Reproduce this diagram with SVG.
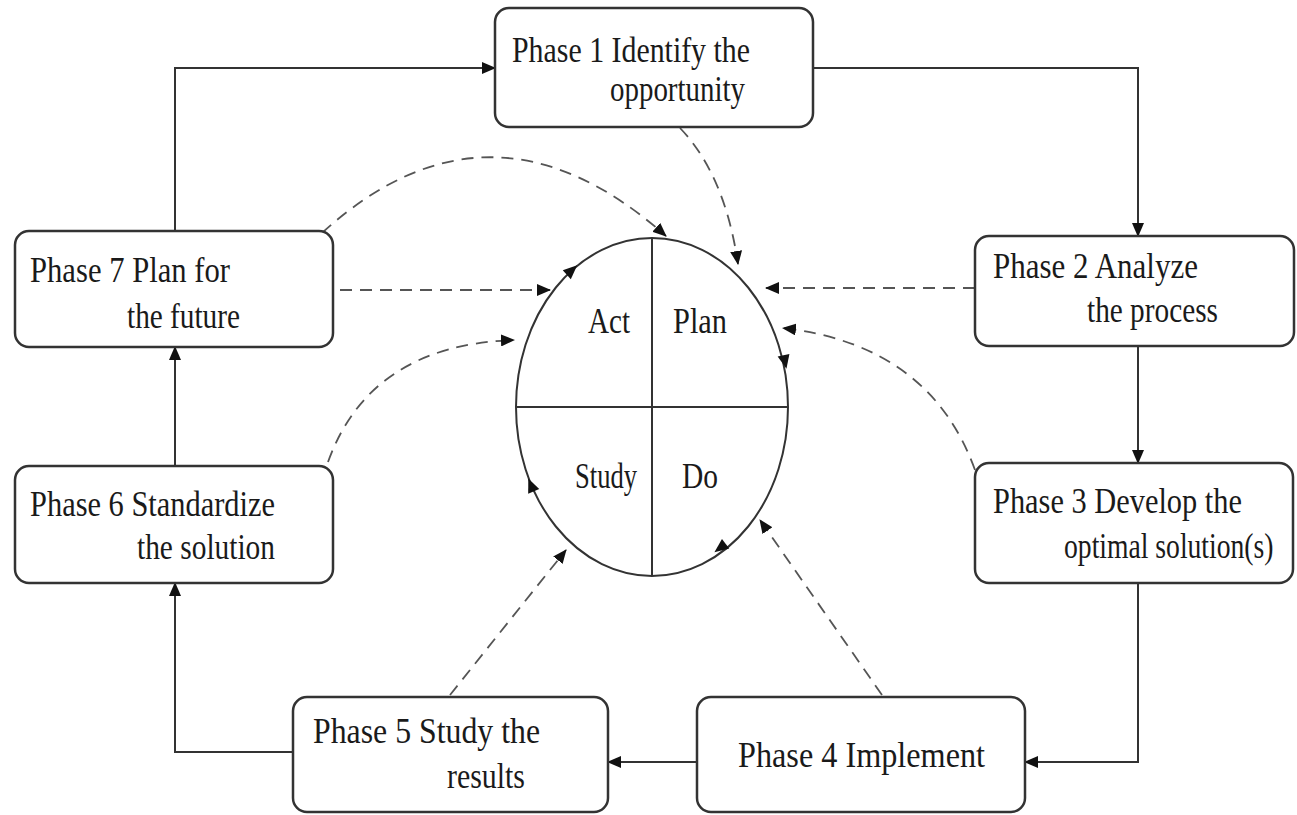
<svg xmlns="http://www.w3.org/2000/svg" width="1297" height="815" viewBox="0 0 1297 815">
<defs>
<marker id="arr" markerUnits="userSpaceOnUse" markerWidth="14" markerHeight="12" refX="13" refY="6" orient="auto">
<path d="M0,0 L14,6 L0,12 z" fill="#111"/>
</marker>
<style>
.box{fill:#fff;stroke:#333;stroke-width:2.5}
.t{font-family:"Liberation Serif","Times New Roman",serif;font-size:35px;fill:#1a1a1a}
.solid{fill:none;stroke:#333;stroke-width:2}
.dash{fill:none;stroke:#555;stroke-width:1.8;stroke-dasharray:12 8}
.circ{fill:none;stroke:#333;stroke-width:2}
.tri{fill:#111}
</style>
</defs>
<rect width="1297" height="815" fill="#fff"/>

<g id="connectors">
<path class="solid" d="M175,231 V68 H495" marker-end="url(#arr)"/>
<path class="solid" d="M813,68 H1138 V236" marker-end="url(#arr)"/>
<path class="solid" d="M1138,346 V463" marker-end="url(#arr)"/>
<path class="solid" d="M1138,583 V762 H1025" marker-end="url(#arr)"/>
<path class="solid" d="M697,762 H608" marker-end="url(#arr)"/>
<path class="solid" d="M293,752 H175 V583" marker-end="url(#arr)"/>
<path class="solid" d="M175,466 V347" marker-end="url(#arr)"/>

<path class="dash" d="M322,233 Q490,80 666,236" marker-end="url(#arr)"/>
<path class="dash" d="M340,290 H550" marker-end="url(#arr)"/>
<path class="dash" d="M328,462 Q370,345 514,340" marker-end="url(#arr)"/>
<path class="dash" d="M450,695 L566,550" marker-end="url(#arr)"/>
<path class="dash" d="M882,695 L760,520" marker-end="url(#arr)"/>
<path class="dash" d="M975,470 Q930,345 783,328" marker-end="url(#arr)"/>
<path class="dash" d="M975,288 H766" marker-end="url(#arr)"/>
<path class="dash" d="M680,128 Q725,175 738,264" marker-end="url(#arr)"/>
</g>

<g id="cycle">
<ellipse class="circ" cx="652" cy="407" rx="136" ry="169"/>
<line class="circ" x1="652" y1="238" x2="652" y2="576"/>
<line class="circ" x1="516" y1="407" x2="788" y2="407"/>
<polygon class="tri" points="7,0 -7,-6 -7,6" transform="translate(572,270) rotate(-42)"/>
<polygon class="tri" points="7,0 -7,-6 -7,6" transform="translate(785,362) rotate(78)"/>
<polygon class="tri" points="7,0 -7,-6 -7,6" transform="translate(720,548) rotate(143)"/>
<polygon class="tri" points="7,0 -7,-6 -7,6" transform="translate(531,485) rotate(-113)"/>
<text class="t" x="588" y="333" textLength="42" lengthAdjust="spacingAndGlyphs">Act</text>
<text class="t" x="673" y="333" textLength="54" lengthAdjust="spacingAndGlyphs">Plan</text>
<text class="t" x="575" y="488" textLength="62" lengthAdjust="spacingAndGlyphs">Study</text>
<text class="t" x="682" y="488" textLength="36" lengthAdjust="spacingAndGlyphs">Do</text>
</g>

<g id="phase1">
<rect class="box" x="495" y="8" width="318" height="119" rx="14"/>
<text class="t" x="512" y="62" textLength="238" lengthAdjust="spacingAndGlyphs">Phase 1  Identify the</text>
<text class="t" x="610" y="101" textLength="135" lengthAdjust="spacingAndGlyphs">opportunity</text>
</g>

<g id="phase2">
<rect class="box" x="975" y="236" width="319" height="110" rx="14"/>
<text class="t" x="993" y="278" textLength="205" lengthAdjust="spacingAndGlyphs">Phase 2  Analyze</text>
<text class="t" x="1087" y="322" textLength="131" lengthAdjust="spacingAndGlyphs">the process</text>
</g>

<g id="phase3">
<rect class="box" x="975" y="463" width="318" height="120" rx="14"/>
<text class="t" x="993" y="513" textLength="249" lengthAdjust="spacingAndGlyphs">Phase 3  Develop the</text>
<text class="t" transform="translate(1064,558) scale(0.79,1)" x="0" y="0">optimal solution(s)</text>
</g>

<g id="phase4">
<rect class="box" x="697" y="697" width="328" height="115" rx="14"/>
<text class="t" x="738" y="767" textLength="247" lengthAdjust="spacingAndGlyphs">Phase  4  Implement</text>
</g>

<g id="phase5">
<rect class="box" x="293" y="697" width="315" height="115" rx="14"/>
<text class="t" x="313" y="743" textLength="227" lengthAdjust="spacingAndGlyphs">Phase  5  Study the</text>
<text class="t" x="447" y="788" textLength="78" lengthAdjust="spacingAndGlyphs">results</text>
</g>

<g id="phase6">
<rect class="box" x="15" y="466" width="318" height="117" rx="14"/>
<text class="t" x="30" y="516" textLength="245" lengthAdjust="spacingAndGlyphs">Phase 6  Standardize</text>
<text class="t" x="137" y="559" textLength="138" lengthAdjust="spacingAndGlyphs">the solution</text>
</g>

<g id="phase7">
<rect class="box" x="15" y="231" width="318" height="116" rx="14"/>
<text class="t" x="30" y="282" textLength="200" lengthAdjust="spacingAndGlyphs">Phase 7  Plan for</text>
<text class="t" x="127" y="328" textLength="113" lengthAdjust="spacingAndGlyphs">the future</text>
</g>
</svg>
